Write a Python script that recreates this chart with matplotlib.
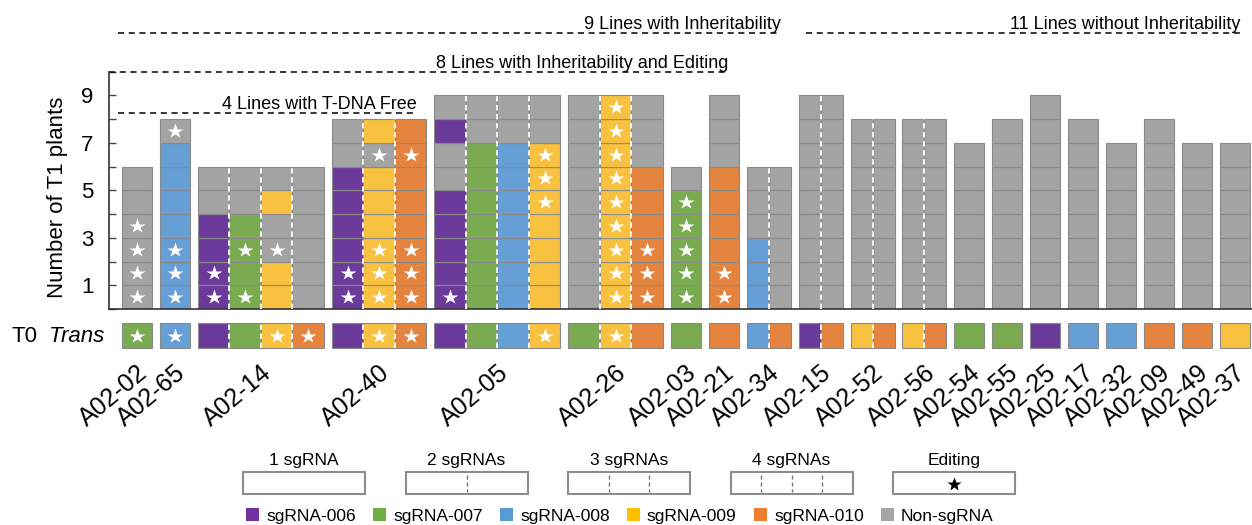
import matplotlib
matplotlib.use("Agg")
import matplotlib.pyplot as plt
from matplotlib.patches import Patch, Rectangle

plt.rcParams['font.family'] = ['Liberation Sans', 'DejaVu Sans']

# T0 lines, in plotting order
LINES = ['A02-02', 'A02-65', 'A02-14', 'A02-40', 'A02-05', 'A02-26',
         'A02-03', 'A02-21', 'A02-34', 'A02-15', 'A02-52', 'A02-56',
         'A02-54', 'A02-55', 'A02-25', 'A02-17', 'A02-32', 'A02-09',
         'A02-49', 'A02-37']

# sgRNAs carried by each T0 line
T0_SGRNAS = [['007'], ['008'], ['006', '007', '009', '010'],
             ['006', '009', '010'], ['006', '007', '008', '009'],
             ['007', '009', '010'], ['007'], ['010'], ['008', '010'],
             ['006', '010'], ['009', '010'], ['009', '010'],
             ['007'], ['007'], ['006'], ['008'], ['008'], ['010'],
             ['010'], ['009']]

# was the sgRNA target edited in the T0 plant
T0_EDITED = [[True], [True], [False, False, True, True],
             [False, True, True], [False, False, False, True],
             [False, True, False], [False], [False], [False, False],
             [False, False], [False, False], [False, False],
             [False], [False], [False], [False], [False], [False],
             [False], [False]]

# T1 plants, one string per sgRNA, bottom plant first.
# 6/7/8/9/0 = carries sgRNA-006..010, n = non-sgRNA, * = edited
T1_CELLS = [
    ['n*n*n*n*nn'],
    ['8*8*8*8888n*'],
    ['6*6*66nn', '7*77*7nn', '99n*n9n', 'nnnnnn'],
    ['6*6*6666nn', '9*9*9*999n*9', '0*0*0*0000*0'],
    ['6*6666nn6n', '7777777nn', '8888888nn', '99999*9*9*nn'],
    ['nnnnnnnnn', '9*9*9*9*9*9*9*9*9*', '0*0*0*000nnn'],
    ['7*7*7*7*7*n'],
    ['0*0*0000nnn'],
    ['888nnn', 'nnnnnn'],
    ['nnnnnnnnn', 'nnnnnnnnn'],
    ['nnnnnnnn', 'nnnnnnnn'],
    ['nnnnnnnn', 'nnnnnnnn'],
    ['nnnnnnn'],
    ['nnnnnnnn'],
    ['nnnnnnnnn'],
    ['nnnnnnnn'],
    ['nnnnnnn'],
    ['nnnnnnnn'],
    ['nnnnnnn'],
    ['nnnnnnn'],
]

# (text, first line index, last line index)
GROUPS = [('4 Lines with T-DNA Free', 0, 3),
          ('8 Lines with Inheritability and Editing', 0, 7),
          ('9 Lines with Inheritability', 0, 8),
          ('11 Lines without Inheritability', 9, 19)]

SGRNA_KEYS = ['006', '007', '008', '009', '010', 'non']
SGRNA_NAMES = ['sgRNA-006', 'sgRNA-007', 'sgRNA-008', 'sgRNA-009',
               'sgRNA-010', 'Non-sgRNA']
BOX_LABELS = ['1 sgRNA', '2 sgRNAs', '3 sgRNAs', '4 sgRNAs', 'Editing']

# styling
BAR_COLORS = {'006': '#6b3a9b', '007': '#7aab50', '008': '#669ed6',
              '009': '#f8c13f', '010': '#e4843f', 'non': '#a3a3a3'}
KEY_COLORS = ['#7030a0', '#70ad47', '#5b9bd5', '#ffc000', '#ed7d31', '#a5a5a5']
CHAR_KEY = {'6': '006', '7': '007', '8': '008', '9': '009', '0': '010', 'n': 'non'}
EDGE = '#8a8a8a'
DIVIDER = (0, (3, 2))


def parse_cells(code):
    cells = []
    for ch in code:
        if ch == '*':
            cells[-1] = (cells[-1][0], True)
        else:
            cells.append((CHAR_KEY[ch], False))
    return cells


def sub_width(n):
    # width of one sgRNA column, in pixels
    if n == 1:
        return 30
    if n == 2:
        return 22
    return 31.5


GAP = 7.95
PX_PER_UNIT = 23.75
T0_Y = -39 / PX_PER_UNIT
T0_H = 25 / PX_PER_UNIT

fig = plt.figure(figsize=(12.52, 5.25), dpi=100)
ax = fig.add_axes([109 / 1252, 216 / 525, 1143 / 1252, 10 * PX_PER_UNIT / 525])

# place the groups
lefts, rights, centers = [], [], []
x = 0
for subs in T1_CELLS:
    w = sub_width(len(subs))
    lefts.append(x)
    rights.append(x + w * len(subs))
    centers.append(x + w * len(subs) / 2)
    x += w * len(subs) + GAP

for i, subs in enumerate(T1_CELLS):
    n = len(subs)
    w = sub_width(n)
    for j, code in enumerate(subs):
        xc = lefts[i] + w * (j + 0.5)
        cells = parse_cells(code)
        ax.bar([xc] * len(cells), 1, bottom=range(len(cells)), width=w,
               color=[BAR_COLORS[k] for k, _ in cells],
               edgecolor=EDGE, linewidth=0.8)
        sy = [k + 0.5 for k, (_, s) in enumerate(cells) if s]
        ax.plot([xc] * len(sy), sy, '*', color='white', ms=11.5, mec='none')

        # T0 transgene row
        t0 = ax.bar(xc, T0_H, bottom=T0_Y, width=w,
                    color=BAR_COLORS[T0_SGRNAS[i][j]], edgecolor=EDGE, linewidth=0.8)
        for p in t0:
            p.set_clip_on(False)
        if T0_EDITED[i][j]:
            ax.plot(xc, T0_Y + T0_H / 2, '*', color='white', ms=11.5, mec='none',
                    clip_on=False)

    top = len(parse_cells(subs[0]))
    for j in range(1, n):
        xd = lefts[i] + w * j
        ax.vlines(xd, 0, top, color='white', lw=1.3, linestyles=DIVIDER, zorder=3)
        ax.vlines(xd, T0_Y, T0_Y + T0_H, color='white', lw=1.3,
                  linestyles=DIVIDER, zorder=3, clip_on=False)

ax.set_xlim(-13, 1130)
ax.set_ylim(0, 10)
for s in ['top', 'right']:
    ax.spines[s].set_visible(False)
ax.spines['left'].set_bounds(0, 10)
for s in ['left', 'bottom']:
    ax.spines[s].set_color('#333333')
    ax.spines[s].set_linewidth(1.2)

ax.set_yticks(range(11))
ax.set_yticklabels([str(v) if v % 2 else '' for v in range(11)])
ax.tick_params(axis='y', direction='in', length=5, width=1, color='#444444',
               labelsize=16, pad=11)
ax.set_xticks(centers)
ax.set_xticklabels(LINES, rotation=40, ha='right', rotation_mode='anchor', fontsize=18)
ax.tick_params(axis='x', length=0, pad=37)

fig.text(57 / 1252, 1 - 197 / 525, 'Number of T1 plants', rotation=90,
         ha='center', va='center', fontsize=16)
fig.text(12 / 1252, 1 - 337 / 525, 'T0', ha='left', va='center', fontsize=16)
fig.text(104 / 1252, 1 - 337 / 525, 'Trans', ha='right', va='center',
         fontsize=16, style='italic')

# dashed brackets over the groups of lines
levels = [8.27, 10.0, 11.63, 11.63]
for (label, a, b), lev in zip(GROUPS, levels):
    x0 = -13 if lev == 10.0 else (lefts[a] - 4 if a == 0 else lefts[a] + 7)
    x1 = rights[b] - 10
    ax.plot([x0, x1], [lev, lev], color='black', lw=1.1, ls=(0, (4, 3)),
            clip_on=False)
    ax.text(x1, lev + 0.15, label, ha='right', va='baseline', fontsize=13,
            clip_on=False)

# legend: number of sgRNAs / editing boxes
ov = fig.add_axes([0, 0, 1, 1])
ov.set_xlim(0, 1252)
ov.set_ylim(525, 0)
ov.axis('off')
ov.patch.set_visible(False)
for i, lab in enumerate(BOX_LABELS):
    x0 = 243 + i * 162.5
    ov.add_patch(Rectangle((x0, 472), 122, 22, fill=False, ec='#8c8c8c', lw=1.5))
    ov.text(x0 + 61, 461, lab, ha='center', va='center', fontsize=12.5)
    if i < 4:
        for k in range(1, i + 1):
            xd = x0 + 122 * k / (i + 1)
            ov.plot([xd, xd], [475, 492], color='#777777', lw=1, ls=(0, (3, 2)))
    else:
        ov.plot(x0 + 61, 484, '*', color='black', ms=10, mec='none')

# legend: sgRNA colours
handles = [Patch(facecolor=c, edgecolor='none') for c in KEY_COLORS]
fig.legend(handles, SGRNA_NAMES, ncol=6, loc='center',
           bbox_to_anchor=(620 / 1252, 9 / 525), frameon=False, fontsize=12.5,
           handlelength=0.75, handleheight=0.75, handletextpad=0.4,
           columnspacing=1.0, borderpad=0, borderaxespad=0)

fig.savefig('out.png', dpi=100)
